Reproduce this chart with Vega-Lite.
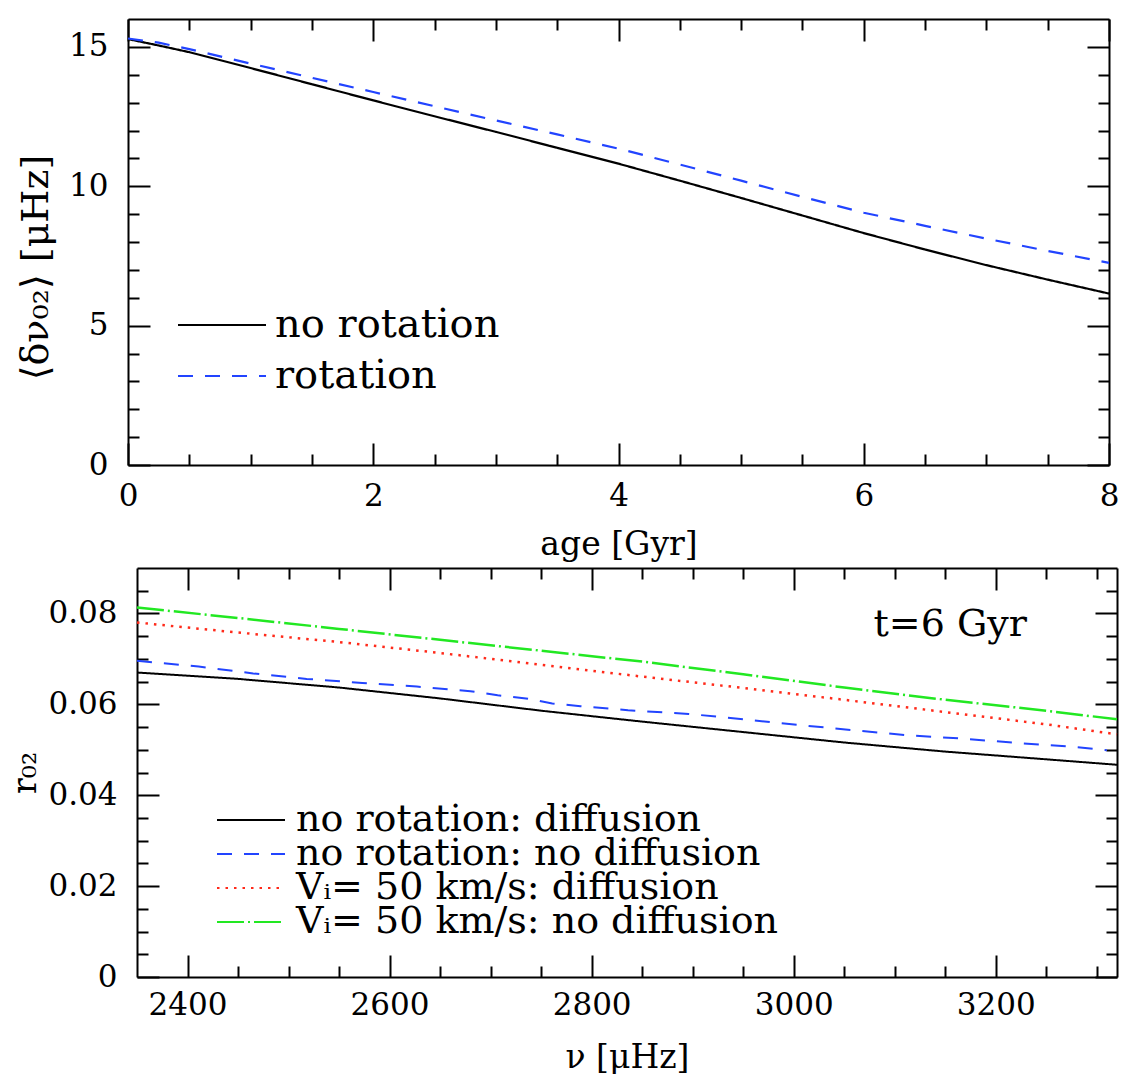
{
  "$schema": "https://vega.github.io/schema/vega-lite/v6.json",
  "background": "white",
  "padding": {"left": 9, "top": 18, "right": 0, "bottom": 0},
  "spacing": 6,
  "resolve": {"scale": {"color": "independent", "strokeDash": "independent"}, "legend": {"color": "independent", "strokeDash": "independent"}},
  "config": {
    "view": {"stroke": null},
    "axis": {"domainColor": "#000000", "domainWidth": 2, "tickColor": "#000000", "tickWidth": 2, "grid": false,
      "labelFont": "DejaVu Serif", "labelFontSize": 31, "labelColor": "#000000",
      "titleFont": "DejaVu Serif", "titleFontSize": 33, "titleFontWeight": "normal", "titleColor": "#000000"},
    "legend": {"labelFont": "DejaVu Serif", "labelFontSize": 40, "labelColor": "#000000", "symbolType": "stroke", "symbolStrokeWidth": 2, "labelLimit": 0, "padding": 0}
  },
  "vconcat": [
    {
      "width": 972, "height": 446,
      "data": {"values": [
        {"model": "no rotation", "age": 0, "dnu": 15.28}, {"model": "no rotation", "age": 0.25, "dnu": 15.05}, {"model": "no rotation", "age": 0.5, "dnu": 14.81},
        {"model": "no rotation", "age": 1, "dnu": 14.24}, {"model": "no rotation", "age": 1.5, "dnu": 13.66}, {"model": "no rotation", "age": 2, "dnu": 13.08},
        {"model": "no rotation", "age": 2.5, "dnu": 12.51}, {"model": "no rotation", "age": 3, "dnu": 11.95}, {"model": "no rotation", "age": 3.5, "dnu": 11.38},
        {"model": "no rotation", "age": 4, "dnu": 10.81}, {"model": "no rotation", "age": 4.5, "dnu": 10.2}, {"model": "no rotation", "age": 5, "dnu": 9.58},
        {"model": "no rotation", "age": 5.5, "dnu": 8.95}, {"model": "no rotation", "age": 6, "dnu": 8.32}, {"model": "no rotation", "age": 6.5, "dnu": 7.73},
        {"model": "no rotation", "age": 7, "dnu": 7.17}, {"model": "no rotation", "age": 7.5, "dnu": 6.65}, {"model": "no rotation", "age": 8, "dnu": 6.15},
        {"model": "rotation", "age": 0, "dnu": 15.3}, {"model": "rotation", "age": 0.25, "dnu": 15.15}, {"model": "rotation", "age": 0.5, "dnu": 14.92},
        {"model": "rotation", "age": 1, "dnu": 14.4}, {"model": "rotation", "age": 1.5, "dnu": 13.89}, {"model": "rotation", "age": 2, "dnu": 13.38},
        {"model": "rotation", "age": 2.5, "dnu": 12.87}, {"model": "rotation", "age": 3, "dnu": 12.36}, {"model": "rotation", "age": 3.5, "dnu": 11.86},
        {"model": "rotation", "age": 4, "dnu": 11.35}, {"model": "rotation", "age": 4.5, "dnu": 10.78}, {"model": "rotation", "age": 5, "dnu": 10.2},
        {"model": "rotation", "age": 5.5, "dnu": 9.62}, {"model": "rotation", "age": 6, "dnu": 9.05}, {"model": "rotation", "age": 6.5, "dnu": 8.58},
        {"model": "rotation", "age": 7, "dnu": 8.12}, {"model": "rotation", "age": 7.5, "dnu": 7.68}, {"model": "rotation", "age": 8, "dnu": 7.25}
      ]},
      "resolve": {"axis": {"x": "independent", "y": "independent"}},
      "layer": [
        {
          "transform": [{"filter": "datum.model === 'no rotation'"}],
          "mark": {"type": "line", "strokeWidth": 2.2},
          "encoding": {
            "x": {"field": "age", "type": "quantitative", "scale": {"domain": [0, 8], "nice": false, "range": [-9, 972]},
              "axis": {"orient": "bottom", "values": [0,0.5,1,1.5,2,2.5,3,3.5,4,4.5,5,5.5,6,6.5,7,7.5,8],
                "labelExpr": "datum.value % 2 === 0 ? format(datum.value, 'd') : ''",
                "tickSize": {"condition": {"test": "datum.value % 2 === 0", "value": -22}, "value": -11},
                "labelPadding": 38, "labelFlush": false, "labelOverlap": false, "title": "age [Gyr]", "titlePadding": 6}},
            "y": {"field": "dnu", "type": "quantitative", "scale": {"domain": [0, 16], "nice": false},
              "axis": {"orient": "left", "offset": 9, "values": [0,1,2,3,4,5,6,7,8,9,10,11,12,13,14,15],
                "labelExpr": "datum.value % 5 === 0 ? format(datum.value, 'd') : ''",
                "tickSize": {"condition": {"test": "datum.value % 5 === 0", "value": -22}, "value": -11},
                "labelPadding": 42, "labelFlush": false, "labelOverlap": false, "title": "⟨δν₀₂⟩ [μHz]", "titleFontSize": 38, "titleY": 248, "titlePadding": 13}},
            "color": {"field": "model", "type": "nominal", "scale": {"domain": ["no rotation", "rotation"], "range": ["#000000", "#2244ff"]},
              "legend": {"title": null, "orient": "none", "legendX": 40, "legendY": 286, "symbolSize": 7744, "clipHeight": 40, "rowPadding": 11, "labelOffset": 8}},
            "strokeDash": {"field": "model", "type": "nominal", "scale": {"domain": ["no rotation", "rotation"], "range": [[1, 0], [15, 12]]},
              "legend": {"title": null, "orient": "none", "legendX": 40, "legendY": 286, "symbolSize": 7744, "clipHeight": 40, "rowPadding": 11, "labelOffset": 8}}
          }
        },
        {
          "transform": [{"filter": "datum.model === 'rotation'"}],
          "mark": {"type": "line", "strokeWidth": 2.2},
          "encoding": {
            "x": {"field": "age", "type": "quantitative", "scale": {"domain": [0, 8], "nice": false, "range": [-9, 972]},
              "axis": {"orient": "top", "values": [0,0.5,1,1.5,2,2.5,3,3.5,4,4.5,5,5.5,6,6.5,7,7.5,8], "labels": false,
                "tickSize": {"condition": {"test": "datum.value % 2 === 0", "value": -22}, "value": -11}, "title": null}},
            "y": {"field": "dnu", "type": "quantitative", "scale": {"domain": [0, 16], "nice": false},
              "axis": {"orient": "right", "values": [0,1,2,3,4,5,6,7,8,9,10,11,12,13,14,15], "labels": false,
                "tickSize": {"condition": {"test": "datum.value % 5 === 0", "value": -22}, "value": -11}, "title": null}},
            "color": {"field": "model", "type": "nominal", "scale": {"domain": ["no rotation", "rotation"], "range": ["#000000", "#2244ff"]},
              "legend": {"title": null, "orient": "none", "legendX": 40, "legendY": 286, "symbolSize": 7744, "clipHeight": 40, "rowPadding": 11, "labelOffset": 8}},
            "strokeDash": {"field": "model", "type": "nominal", "scale": {"domain": ["no rotation", "rotation"], "range": [[1, 0], [15, 12]]},
              "legend": {"title": null, "orient": "none", "legendX": 40, "legendY": 286, "symbolSize": 7744, "clipHeight": 40, "rowPadding": 11, "labelOffset": 8}}
          }
        }
      ]
    },
    {
      "width": 980, "height": 409,
      "data": {"values": [
        {"case": "no rotation: diffusion", "nu": 2350, "r": 0.0670}, {"case": "no rotation: diffusion", "nu": 2450, "r": 0.0656},
        {"case": "no rotation: diffusion", "nu": 2550, "r": 0.0637}, {"case": "no rotation: diffusion", "nu": 2650, "r": 0.0613},
        {"case": "no rotation: diffusion", "nu": 2750, "r": 0.0586}, {"case": "no rotation: diffusion", "nu": 2850, "r": 0.0562},
        {"case": "no rotation: diffusion", "nu": 2950, "r": 0.0539}, {"case": "no rotation: diffusion", "nu": 3050, "r": 0.0516},
        {"case": "no rotation: diffusion", "nu": 3150, "r": 0.0496}, {"case": "no rotation: diffusion", "nu": 3250, "r": 0.0479},
        {"case": "no rotation: diffusion", "nu": 3320, "r": 0.0467},
        {"case": "no rotation: no diffusion", "nu": 2350, "r": 0.0696}, {"case": "no rotation: no diffusion", "nu": 2411, "r": 0.0683},
        {"case": "no rotation: no diffusion", "nu": 2465, "r": 0.0668}, {"case": "no rotation: no diffusion", "nu": 2518, "r": 0.0656},
        {"case": "no rotation: no diffusion", "nu": 2573, "r": 0.0647}, {"case": "no rotation: no diffusion", "nu": 2627, "r": 0.0639},
        {"case": "no rotation: no diffusion", "nu": 2680, "r": 0.0629}, {"case": "no rotation: no diffusion", "nu": 2707, "r": 0.0620},
        {"case": "no rotation: no diffusion", "nu": 2735, "r": 0.0613}, {"case": "no rotation: no diffusion", "nu": 2761, "r": 0.0602},
        {"case": "no rotation: no diffusion", "nu": 2789, "r": 0.0596}, {"case": "no rotation: no diffusion", "nu": 2836, "r": 0.0587},
        {"case": "no rotation: no diffusion", "nu": 2896, "r": 0.0579}, {"case": "no rotation: no diffusion", "nu": 2950, "r": 0.0567},
        {"case": "no rotation: no diffusion", "nu": 3003, "r": 0.0555}, {"case": "no rotation: no diffusion", "nu": 3059, "r": 0.0543},
        {"case": "no rotation: no diffusion", "nu": 3112, "r": 0.0532}, {"case": "no rotation: no diffusion", "nu": 3165, "r": 0.0525},
        {"case": "no rotation: no diffusion", "nu": 3221, "r": 0.0515}, {"case": "no rotation: no diffusion", "nu": 3274, "r": 0.0507},
        {"case": "no rotation: no diffusion", "nu": 3310, "r": 0.0499},
        {"case": "Vᵢ= 50 km/s: diffusion", "nu": 2350, "r": 0.0780}, {"case": "Vᵢ= 50 km/s: diffusion", "nu": 2450, "r": 0.0758},
        {"case": "Vᵢ= 50 km/s: diffusion", "nu": 2550, "r": 0.0737}, {"case": "Vᵢ= 50 km/s: diffusion", "nu": 2650, "r": 0.0713},
        {"case": "Vᵢ= 50 km/s: diffusion", "nu": 2750, "r": 0.0687}, {"case": "Vᵢ= 50 km/s: diffusion", "nu": 2850, "r": 0.0661},
        {"case": "Vᵢ= 50 km/s: diffusion", "nu": 2950, "r": 0.0636}, {"case": "Vᵢ= 50 km/s: diffusion", "nu": 3050, "r": 0.0610},
        {"case": "Vᵢ= 50 km/s: diffusion", "nu": 3150, "r": 0.0583}, {"case": "Vᵢ= 50 km/s: diffusion", "nu": 3250, "r": 0.0556},
        {"case": "Vᵢ= 50 km/s: diffusion", "nu": 3320, "r": 0.0534},
        {"case": "Vᵢ= 50 km/s: no diffusion", "nu": 2350, "r": 0.0813}, {"case": "Vᵢ= 50 km/s: no diffusion", "nu": 2450, "r": 0.0790},
        {"case": "Vᵢ= 50 km/s: no diffusion", "nu": 2550, "r": 0.0766}, {"case": "Vᵢ= 50 km/s: no diffusion", "nu": 2650, "r": 0.0742},
        {"case": "Vᵢ= 50 km/s: no diffusion", "nu": 2750, "r": 0.0718}, {"case": "Vᵢ= 50 km/s: no diffusion", "nu": 2850, "r": 0.0694},
        {"case": "Vᵢ= 50 km/s: no diffusion", "nu": 2950, "r": 0.0666}, {"case": "Vᵢ= 50 km/s: no diffusion", "nu": 3050, "r": 0.0637},
        {"case": "Vᵢ= 50 km/s: no diffusion", "nu": 3150, "r": 0.0610}, {"case": "Vᵢ= 50 km/s: no diffusion", "nu": 3250, "r": 0.0586},
        {"case": "Vᵢ= 50 km/s: no diffusion", "nu": 3320, "r": 0.0567}
      ]},
      "resolve": {"axis": {"x": "independent", "y": "independent"}},
      "layer": [
        {
          "transform": [{"filter": "indexof(datum.case, 'no rotation') === 0"}],
          "mark": {"type": "line", "strokeWidth": 2},
          "encoding": {
            "x": {"field": "nu", "type": "quantitative", "scale": {"domain": [2350, 3320], "nice": false, "zero": false},
              "axis": {"orient": "bottom", "values": [2400,2450,2500,2550,2600,2650,2700,2750,2800,2850,2900,2950,3000,3050,3100,3150,3200,3250,3300],
                "labelExpr": "datum.value % 200 === 0 ? format(datum.value, 'd') : ''",
                "tickSize": {"condition": {"test": "datum.value % 200 === 0", "value": -22}, "value": -11},
                "labelPadding": 35, "labelFlush": false, "labelOverlap": false, "title": "ν [μHz]", "titlePadding": 10}},
            "y": {"field": "r", "type": "quantitative", "scale": {"domain": [0, 0.09], "nice": false},
              "axis": {"orient": "left", "values": [0,0.005,0.01,0.015,0.02,0.025,0.03,0.035,0.04,0.045,0.05,0.055,0.06,0.065,0.07,0.075,0.08,0.085],
                "labelExpr": "abs(datum.value*50 - round(datum.value*50)) < 1e-6 ? (datum.value === 0 ? '0' : format(datum.value, '.2f')) : ''",
                "tickSize": {"condition": {"test": "abs(datum.value*50 - round(datum.value*50)) < 1e-6", "value": -22}, "value": -11},
                "labelPadding": 42, "labelFlush": false, "labelOverlap": false, "title": "r₀₂", "titlePadding": 5}},
            "color": {"field": "case", "type": "nominal", "scale": {"domain": ["no rotation: diffusion", "no rotation: no diffusion", "Vᵢ= 50 km/s: diffusion", "Vᵢ= 50 km/s: no diffusion"], "range": ["#000000", "#2244ff", "#ff2a1a", "#22e822"]},
              "legend": {"title": null, "orient": "none", "legendX": 79, "legendY": 237, "symbolSize": 4624, "clipHeight": 30, "rowPadding": -4, "labelOffset": 10, "labelFontSize": 38}},
            "strokeDash": {"field": "case", "type": "nominal", "scale": {"domain": ["no rotation: diffusion", "no rotation: no diffusion", "Vᵢ= 50 km/s: diffusion", "Vᵢ= 50 km/s: no diffusion"], "range": [[1, 0], [15, 12], [2.5, 6], [27, 4, 2, 4]]},
              "legend": {"title": null, "orient": "none", "legendX": 79, "legendY": 237, "symbolSize": 4624, "clipHeight": 30, "rowPadding": -4, "labelOffset": 10, "labelFontSize": 38}}
          }
        },
        {
          "transform": [{"filter": "indexof(datum.case, 'no rotation') !== 0"}],
          "mark": {"type": "line", "strokeWidth": 2.5},
          "encoding": {
            "x": {"field": "nu", "type": "quantitative", "scale": {"domain": [2350, 3320], "nice": false, "zero": false},
              "axis": {"orient": "top", "values": [2400,2450,2500,2550,2600,2650,2700,2750,2800,2850,2900,2950,3000,3050,3100,3150,3200,3250,3300], "labels": false,
                "tickSize": {"condition": {"test": "datum.value % 200 === 0", "value": -22}, "value": -11}, "title": null}},
            "y": {"field": "r", "type": "quantitative", "scale": {"domain": [0, 0.09], "nice": false},
              "axis": {"orient": "right", "values": [0,0.005,0.01,0.015,0.02,0.025,0.03,0.035,0.04,0.045,0.05,0.055,0.06,0.065,0.07,0.075,0.08,0.085], "labels": false,
                "tickSize": {"condition": {"test": "abs(datum.value*50 - round(datum.value*50)) < 1e-6", "value": -22}, "value": -11}, "title": null}},
            "color": {"field": "case", "type": "nominal", "scale": {"domain": ["no rotation: diffusion", "no rotation: no diffusion", "Vᵢ= 50 km/s: diffusion", "Vᵢ= 50 km/s: no diffusion"], "range": ["#000000", "#2244ff", "#ff2a1a", "#22e822"]},
              "legend": {"title": null, "orient": "none", "legendX": 79, "legendY": 237, "symbolSize": 4624, "clipHeight": 30, "rowPadding": -4, "labelOffset": 10, "labelFontSize": 38}},
            "strokeDash": {"field": "case", "type": "nominal", "scale": {"domain": ["no rotation: diffusion", "no rotation: no diffusion", "Vᵢ= 50 km/s: diffusion", "Vᵢ= 50 km/s: no diffusion"], "range": [[1, 0], [15, 12], [2.5, 6], [27, 4, 2, 4]]},
              "legend": {"title": null, "orient": "none", "legendX": 79, "legendY": 237, "symbolSize": 4624, "clipHeight": 30, "rowPadding": -4, "labelOffset": 10, "labelFontSize": 38}}
          }
        },
        {
          "data": {"values": [{"nu": 3079, "r": 0.0775, "txt": "t=6 Gyr"}]},
          "mark": {"type": "text", "font": "DejaVu Serif", "fontSize": 38, "color": "#000000", "align": "left", "baseline": "middle"},
          "encoding": {
            "x": {"field": "nu", "type": "quantitative", "axis": null},
            "y": {"field": "r", "type": "quantitative", "axis": null},
            "text": {"field": "txt"}
          }
        }
      ]
    }
  ]
}
